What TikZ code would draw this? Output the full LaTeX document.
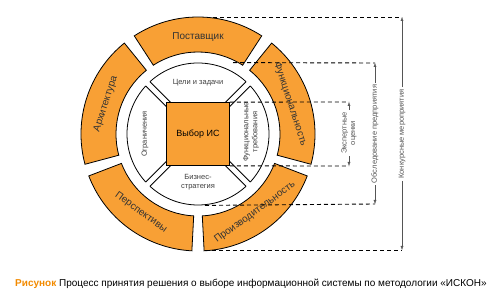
\documentclass[tikz,border=0pt]{standalone}
\usepackage{fontspec}
\setmainfont{Liberation Sans}
\usepackage{tikz}
\usetikzlibrary{arrows.meta,positioning}
\definecolor{iskonorange}{HTML}{F8A035}
\definecolor{iskoncaption}{HTML}{F28A00}
\definecolor{iskongray}{HTML}{555555}

\begin{document}
\begin{tikzpicture}[x=1pt,y=1pt,
  segment/.style={draw,line width=0.8pt,fill=iskonorange},
  seglabel/.style={font=\fontsize{10}{12}\selectfont,text=black!80,inner sep=0pt},
  innerlabel/.style={font=\fontsize{7.5}{9}\selectfont,text=black!75,align=center,inner sep=0pt},
  bracket/.style={dash pattern=on 4pt off 3pt,line width=0.9pt},
  dimline/.style={-{Latex[length=4pt,width=3pt]},line width=0.4pt,draw=iskongray},
  dimlabel/.style={font=\fontsize{7.5}{8.5}\selectfont,text=iskongray,align=center,rotate=90,inner sep=2pt}
]
\useasboundingbox (-198,-170) rectangle (302,134);
% outer ring
\foreach \a/\rot/\name/\txt in {90/0/supplier/Поставщик, 162/72/arch/Архитектура, 18/-72/func/Функциональность, 234/-36/persp/Перспективы, 306/36/perf/Производительность}{
  \draw[segment] (\a-33:117) arc[start angle=\a-33,end angle=\a+33,radius=117]
    -- (\a+33:82) arc[start angle=\a+33,end angle=\a-33,radius=82] -- cycle;
  \node[seglabel,rotate=\rot] (\name) at (\a:97) {\txt};
}
% inner disk and gaps
\node[circle,draw,line width=0.8pt,fill=white,minimum size=142pt,inner sep=0pt] (disk) at (0,0) {};
\foreach \a in {45,135,225,315}{
  \fill[white,rotate=\a] (40,-3) rectangle (74,3);
  \draw[line width=0.8pt,rotate=\a] (41,-3) -- (70.9,-3) (41,3) -- (70.9,3);
}
\node[draw,line width=0.8pt,fill=iskonorange,minimum size=63pt,inner sep=0pt,
  font=\fontsize{9}{11}\selectfont] (core) at (0,0) {Выбор ИС};
\node[innerlabel] (goals) at (0,51) {Цели и задачи};
\node[innerlabel] (strategy) at (0,-48) {Бизнес-\\стратегия};
\node[innerlabel,rotate=90] (limits) at (-53,0) {Ограничения};
\node[innerlabel,rotate=90] (funcreq) at (53,2) {Функциональные\\требования};
% brackets
\coordinate (b1t) at (151,32);
\coordinate (b1b) at (151,-32);
\coordinate (b2t) at (177,71);
\coordinate (b2b) at (177,-70);
\coordinate (b3t) at (204,117);
\coordinate (b3b) at (204,-116);
\draw[bracket] (core.north east) -- (b1t);
\draw[bracket] (core.south east) -- (b1b);
\draw[bracket] ([xshift=35pt]disk.north) -- (b2t);
\draw[bracket] ([xshift=7pt]disk.south) -- (b2b);
\draw[bracket] (15,117) -- (b3t);
\draw[bracket] (7,-116) -- (b3b);
\node[dimlabel] (expert) at (151,1) {Экспертные\\оценки};
\node[dimlabel] (survey) at (177,0) {Обследование предприятия};
\node[dimlabel] (tender) at (204,0) {Конкурсные мероприятия};
\draw[dimline] (expert) -- (b1t);
\draw[dimline] (expert) -- (b1b);
\draw[dimline] (survey) -- (b2t);
\draw[dimline] (survey) -- (b2b);
\draw[dimline] (tender) -- (b3t);
\draw[dimline] (tender) -- (b3b);
% caption
\node[anchor=west,inner sep=0pt,font=\fontsize{10}{12}\selectfont] (caption) at (-183,-150)
  {\textcolor{iskoncaption}{\textbf{Рисунок}} Процесс принятия решения о выборе информационной системы по методологии «ИСКОН»};
\end{tikzpicture}
\end{document}
